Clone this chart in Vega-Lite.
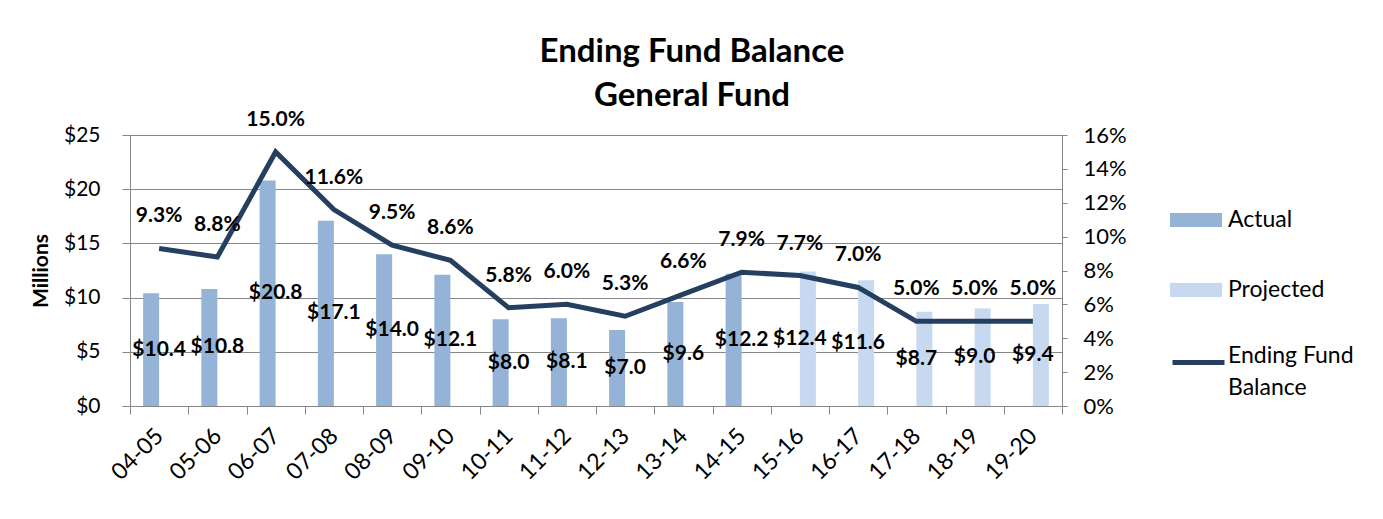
{
  "$schema": "https://vega.github.io/schema/vega-lite/v6.json",
  "autosize": {"type": "none"},
  "width": 932,
  "height": 271,
  "padding": {"left": 130, "top": 135, "right": 321, "bottom": 113},
  "background": "white",
  "config": {
    "view": {"stroke": null},
    "font": "Lato",
    "axis": {"labelFont": "Lato", "labelColor": "black", "titleColor": "black", "domainColor": "#868686", "tickColor": "#868686", "gridColor": "#868686", "labelFontSize": 21},
    "legend": {"labelFont": "Lato", "labelColor": "black", "labelFontSize": 23},
    "style": {"guide-label": {"lineHeight": 32}}
  },
  "title": {
    "text": ["Ending Fund Balance", "General Fund"],
    "fontSize": 33,
    "fontWeight": "bold",
    "font": "Lato",
    "lineHeight": 44,
    "anchor": "middle",
    "frame": "group",
    "dx": 96,
    "dy": 34,
    "offset": 30,
    "color": "black"
  },
  "data": {
    "values": [
      {"year": "04-05", "type": "Actual", "amount": 10.4, "pct": 0.093},
      {"year": "05-06", "type": "Actual", "amount": 10.8, "pct": 0.088},
      {"year": "06-07", "type": "Actual", "amount": 20.8, "pct": 0.150},
      {"year": "07-08", "type": "Actual", "amount": 17.1, "pct": 0.116},
      {"year": "08-09", "type": "Actual", "amount": 14.0, "pct": 0.095},
      {"year": "09-10", "type": "Actual", "amount": 12.1, "pct": 0.086},
      {"year": "10-11", "type": "Actual", "amount": 8.0, "pct": 0.058},
      {"year": "11-12", "type": "Actual", "amount": 8.1, "pct": 0.060},
      {"year": "12-13", "type": "Actual", "amount": 7.0, "pct": 0.053},
      {"year": "13-14", "type": "Actual", "amount": 9.6, "pct": 0.066},
      {"year": "14-15", "type": "Actual", "amount": 12.2, "pct": 0.079},
      {"year": "15-16", "type": "Projected", "amount": 12.4, "pct": 0.077},
      {"year": "16-17", "type": "Projected", "amount": 11.6, "pct": 0.070},
      {"year": "17-18", "type": "Projected", "amount": 8.7, "pct": 0.050},
      {"year": "18-19", "type": "Projected", "amount": 9.0, "pct": 0.050},
      {"year": "19-20", "type": "Projected", "amount": 9.4, "pct": 0.050}
    ]
  },
  "encoding": {
    "x": {
      "field": "year",
      "type": "nominal",
      "sort": null,
      "title": null,
      "scale": {"paddingInner": 0, "paddingOuter": 0},
      "axis": {"tickBand": "extent", "tickSize": 8, "labelAngle": -45, "labelAlign": "right", "labelBaseline": "middle", "labelPadding": 18, "labelFontSize": 23}
    }
  },
  "layer": [
    {
      "mark": {"type": "bar"},
      "encoding": {
        "xOffset": {"field": "type", "type": "nominal", "scale": {"domain": ["Actual", "Projected"], "paddingInner": 0, "paddingOuter": 0.82}},
        "y": {
          "field": "amount",
          "type": "quantitative",
          "scale": {"domain": [0, 25]},
          "axis": {"values": [0, 5, 10, 15, 20, 25], "labelExpr": "'$' + datum.value", "tickSize": 8, "labelPadding": 22, "grid": true, "title": "Millions", "titleFontSize": 21, "titleFontWeight": "bold", "titleFont": "Lato", "titlePadding": 12}
        },
        "color": {
          "field": "type",
          "type": "nominal",
          "scale": {"domain": ["Actual", "Projected"], "range": ["#95B3D7", "#C6D9F1"]},
          "legend": {"title": null, "orient": "none", "legendX": 1040, "legendY": 59, "padding": 0, "symbolType": "M-1,-0.27H1V0.27H-1Z", "symbolSize": 2704, "symbolStrokeWidth": 0, "labelOffset": 6, "rowPadding": 32}
        }
      }
    },
    {
      "mark": {"type": "line", "strokeWidth": 5},
      "encoding": {
        "y": {
          "field": "pct",
          "type": "quantitative",
          "scale": {"domain": [0, 0.16]},
          "axis": {"orient": "right", "values": [0, 0.02, 0.04, 0.06, 0.08, 0.1, 0.12, 0.14, 0.16], "format": ".0%", "tickSize": 5, "labelPadding": 16, "grid": false, "title": null, "labelFontSize": 22}
        },
        "stroke": {
          "datum": "Ending Fund Balance",
          "type": "nominal",
          "scale": {"range": ["#243F60"]},
          "legend": {"title": null, "orient": "none", "legendX": 1040, "legendY": 199, "padding": 0, "symbolType": "stroke", "symbolSize": 2704, "symbolStrokeWidth": 5, "labelOffset": 1, "labelBaseline": "alphabetic", "labelExpr": "['Ending Fund', 'Balance']"}
        }
      }
    },
    {
      "mark": {"type": "text", "fontWeight": "bold", "fontSize": 21, "dy": -32, "color": "black"},
      "encoding": {
        "y": {"field": "pct", "type": "quantitative", "scale": {"domain": [0, 0.16]}, "axis": null},
        "text": {"field": "pct", "type": "quantitative", "format": ".1%"}
      }
    },
    {
      "mark": {"type": "text", "fontWeight": "bold", "fontSize": 21, "color": "black"},
      "encoding": {
        "y": {"field": "amount", "type": "quantitative", "scale": {"domain": [0, 50]}, "axis": null},
        "text": {"field": "amount", "type": "quantitative", "format": "$.1f"}
      }
    }
  ],
  "resolve": {"scale": {"y": "independent"}}
}
